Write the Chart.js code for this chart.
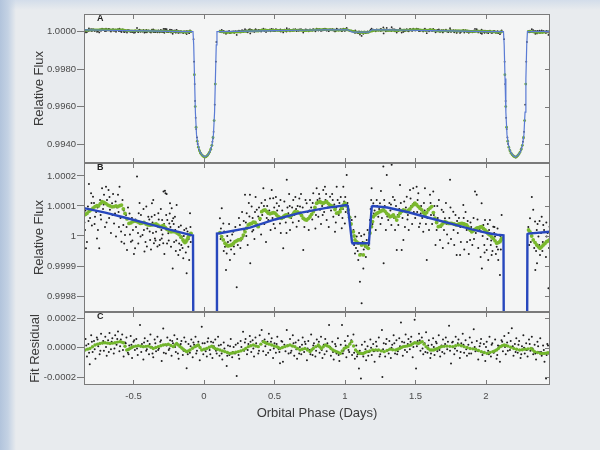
<!DOCTYPE html>
<html><head><meta charset="utf-8">
<script src="https://cdn.jsdelivr.net/npm/chart.js@4.4.1/dist/chart.umd.min.js"></script>
<style>
html,body{margin:0;padding:0;width:600px;height:450px;overflow:hidden;}
body{position:relative;background:
 linear-gradient(to right,#b2c4dc 0px,#c4d2e4 8px,rgba(232,235,238,0) 16px),
 linear-gradient(to bottom,#d3ddea 0px,rgba(232,235,238,0) 10px),
 #e8ebee;}
canvas{position:absolute;left:0;}
</style></head><body>
<canvas id="cA" width="600" height="173" style="top:0px"></canvas>
<canvas id="cB" width="600" height="169" style="top:153px"></canvas>
<canvas id="cC" width="600" height="148" style="top:302px"></canvas>
<script>
// ---------- axes / ticks ----------
const xTickValues = [-0.5, 0, 0.5, 1, 1.5, 2];
const xTickLabels = ["-0.5", "0", "0.5", "1", "1.5", "2"];
const aTickValues = [0, -2000, -4000, -6000];            // ppm from 1
const aTickLabels = ["1.0000", "0.9980", "0.9960", "0.9940"];
const bTickValues = [200, 100, 0, -100, -200];
const bTickLabels = ["1.0002", "1.0001", "1", "0.9999", "0.9998"];
const cTickValues = [200, 0, -200];
const cTickLabels = ["0.0002", "0.0000", "-0.0002"];

// ---------- model light curve [phase (days), flux - 1 (ppm)] ----------
const modelFlux = [
[-0.851,93],[-0.70,78],[-0.55,60],[-0.40,41],[-0.25,22],[-0.14,9],[-0.09,3],
[-0.078,2],[-0.073,-700],[-0.067,-2500],[-0.061,-4300],[-0.053,-5500],[-0.043,-6050],[-0.028,-6420],[-0.011,-6600],[0.007,-6680],[0.025,-6600],[0.042,-6420],[0.057,-6050],[0.067,-5500],[0.075,-4300],[0.081,-2500],[0.087,-700],[0.092,8],
[0.113,9],[0.326,28],[0.504,55],[0.681,77],[0.858,93],[1.012,103],[1.02,100],[1.05,-22],[1.055,-24],[1.165,-24],[1.17,-20],[1.19,98],[1.196,100],
[1.30,95],[1.45,79],[1.60,60],[1.75,41],[1.90,22],[2.02,9],[2.08,4],[2.124,2],[2.129,-700],[2.135,-2500],[2.141,-4300],[2.149,-5500],[2.159,-6050],[2.174,-6420],[2.191,-6600],[2.209,-6700],[2.227,-6600],[2.244,-6420],[2.259,-6050],[2.269,-5500],[2.277,-4300],[2.283,-2500],[2.289,-700],[2.294,6],[2.30,8],[2.454,14]
];

// ---------- binned flux (green) ----------
const binsOut = [
[-0.851,70],[-0.840,72],[-0.830,75],[-0.815,82],[-0.801,87],[-0.787,93],[-0.773,98],[-0.760,101],[-0.748,100],[-0.735,108],[-0.723,114],[-0.709,112],[-0.695,108],[-0.681,103],[-0.667,100],[-0.652,97],[-0.638,98],[-0.624,100],[-0.610,98],[-0.597,101],[-0.585,103],[-0.572,90],[-0.560,75],[-0.546,57],[-0.532,42],[-0.518,44],[-0.504,48],[-0.489,50],[-0.475,48],[-0.462,45],[-0.450,42],[-0.438,44],[-0.426,45],[-0.411,40],[-0.397,37],[-0.383,36],[-0.369,37],[-0.354,39],[-0.340,40],[-0.326,36],[-0.312,31],[-0.299,33],[-0.287,35],[-0.274,28],[-0.262,22],[-0.248,18],[-0.234,14],[-0.220,15],[-0.206,14],[-0.191,10],[-0.177,5],[-0.163,-4],[-0.149,-13],[-0.142,-18],[-0.135,-22],[-0.128,-19],[-0.121,-13],[-0.113,-5],[-0.106,2],[-0.099,6],[-0.092,9],
[0.113,11],[0.125,-2],[0.137,-13],[0.149,-24],[0.161,-30],[0.169,-33],[0.177,-32],[0.186,-31],[0.196,-30],[0.208,-25],[0.220,-19],[0.232,-16],[0.243,-13],[0.255,-12],[0.267,-8],[0.279,3],[0.291,14],[0.302,26],[0.314,37],[0.326,40],[0.338,42],[0.350,46],[0.362,45],[0.374,38],[0.385,31],[0.397,58],[0.409,81],[0.421,85],[0.433,87],[0.444,82],[0.456,76],[0.468,74],[0.480,76],[0.492,78],[0.504,76],[0.515,70],[0.527,64],[0.539,61],[0.551,59],[0.559,62],[0.567,66],[0.577,69],[0.587,70],[0.598,67],[0.610,64],[0.620,68],[0.631,72],[0.638,77],[0.645,81],[0.663,80],[0.681,76],[0.692,68],[0.704,59],[0.716,55],[0.728,53],[0.740,58],[0.752,64],[0.763,72],[0.775,81],[0.787,95],[0.799,109],[0.811,112],[0.823,114],[0.834,111],[0.846,109],[0.858,112],[0.870,114],[0.882,108],[0.894,103],[0.905,100],[0.917,98],[0.929,88],[0.941,76],[0.953,78],[0.965,81],[0.975,92],[0.986,100],[0.993,105],[1.000,109],[1.011,100],[1.023,87],[1.033,62],[1.043,40],
[1.059,14],[1.065,0],[1.071,-13],[1.083,-20],[1.094,-24],[1.106,-63],[1.118,-30],[1.130,-63],[1.135,-24],[1.142,-30],[1.154,-36],[1.165,-41],[1.177,10],[1.188,31],[1.195,48],
[1.201,64],[1.213,70],[1.225,75],[1.236,78],[1.248,81],[1.260,84],[1.272,87],[1.284,82],[1.296,75],[1.308,70],[1.319,64],[1.331,66],[1.343,70],[1.355,62],[1.367,53],[1.379,66],[1.390,76],[1.402,82],[1.414,87],[1.426,84],[1.438,81],[1.450,86],[1.461,90],[1.473,98],[1.485,104],[1.496,109],[1.508,104],[1.520,98],[1.532,92],[1.544,87],[1.556,78],[1.567,70],[1.579,78],[1.591,87],[1.603,93],[1.615,98],[1.627,78],[1.638,59],[1.650,45],[1.662,31],[1.674,33],[1.686,37],[1.697,43],[1.709,48],[1.721,45],[1.733,42],[1.745,42],[1.757,42],[1.773,40],[1.783,38],[1.792,37],[1.801,38],[1.809,40],[1.818,41],[1.828,42],[1.836,41],[1.844,40],[1.853,38],[1.863,37],[1.871,31],[1.879,25],[1.889,19],[1.899,14],[1.907,17],[1.915,20],[1.925,23],[1.934,26],[1.942,27],[1.950,28],[1.960,30],[1.969,31],[1.981,25],[1.993,20],[2.002,15],[2.011,10],[2.020,6],[2.028,3],[2.040,-3],[2.052,-8],[2.064,-16],[2.076,-24],[2.088,-22],[2.099,-19],[2.105,-14],[2.111,-8],
[2.302,20],[2.312,14],[2.324,0],[2.335,-13],[2.348,-22],[2.360,-30],[2.372,-36],[2.383,-41],[2.395,-36],[2.406,-30],[2.418,-25],[2.430,-19],[2.441,-16],[2.450,-13]
];
const binsIn = [
[-0.068,-2300],[-0.062,-4000],[-0.056,-5100],[-0.048,-5850],[-0.040,-6170],[-0.032,-6360],[-0.024,-6490],[-0.016,-6580],[-0.008,-6640],[0.000,-6680],[0.008,-6700],[0.016,-6670],[0.024,-6610],[0.032,-6530],[0.040,-6430],[0.048,-6280],[0.056,-6070],[0.064,-5650],[0.072,-4750],[0.080,-2800],
[2.134,-2300],[2.140,-4000],[2.146,-5100],[2.154,-5850],[2.162,-6170],[2.170,-6360],[2.178,-6490],[2.186,-6580],[2.194,-6640],[2.202,-6680],[2.210,-6700],[2.218,-6670],[2.226,-6610],[2.234,-6530],[2.242,-6430],[2.250,-6280],[2.258,-6070],[2.266,-5650],[2.274,-4750],[2.282,-2800]
];

// ---------- unbinned flux (black) ----------
const dotsOut = [
[-0.848,45],[-0.844,20],[-0.837,-41],[-0.830,-20],[-0.823,98],[-0.816,173],[-0.808,60],[-0.801,142],[-0.795,35],[-0.787,131],[-0.780,110],[-0.773,64],[-0.765,80],[-0.759,-8],[-0.752,20],[-0.743,-41],[-0.737,120],[-0.730,55],[-0.723,159],[-0.716,90],[-0.709,137],[-0.702,30],[-0.695,164],[-0.688,120],[-0.677,153],[-0.673,60],[-0.667,87],[-0.660,10],[-0.652,109],[-0.645,140],[-0.638,42],[-0.631,75],[-0.624,-2],[-0.617,95],[-0.610,137],[-0.603,30],[-0.599,164],[-0.592,60],[-0.585,-19],[-0.578,120],[-0.572,37],[-0.566,-25],[-0.560,3],[-0.553,70],[-0.546,-47],[-0.539,95],[-0.532,42],[-0.525,5],[-0.518,-19],[-0.511,60],[-0.504,20],[-0.497,-60],[-0.489,-41],[-0.482,30],[-0.475,198],[-0.468,10],[-0.463,76],[-0.457,110],[-0.450,-2],[-0.443,40],[-0.436,3],[-0.429,90],[-0.422,-52],[-0.415,-20],[-0.409,98],[-0.402,25],[-0.395,64],[-0.388,55],[-0.382,-13],[-0.376,-45],[-0.371,64],[-0.369,109],[-0.362,10],[-0.360,120],[-0.355,-24],[-0.350,70],[-0.348,-8],[-0.340,14],[-0.335,37],[-0.330,-35],[-0.326,31],[-0.324,76],[-0.316,-30],[-0.312,-13],[-0.306,90],[-0.300,-8],[-0.297,53],[-0.294,5],[-0.289,-24],[-0.287,148],[-0.281,-60],[-0.277,151],[-0.273,142],[-0.268,70],[-0.265,140],[-0.260,53],[-0.253,9],[-0.250,-15],[-0.246,42],[-0.241,109],[-0.238,30],[-0.234,-36],[-0.229,92],[-0.226,50],[-0.222,-108],[-0.218,59],[-0.212,-20],[-0.206,64],[-0.204,20],[-0.200,-50],[-0.194,103],[-0.188,10],[-0.182,-63],[-0.176,-25],[-0.170,-47],[-0.164,35],[-0.158,-2],[-0.152,-40],[-0.147,-74],[-0.140,20],[-0.129,-55],[-0.123,-124],[-0.117,15],[-0.111,-36],[-0.105,-80],[-0.099,76],[-0.094,-20],
[0.113,59],[0.118,-10],[0.126,92],[0.137,42],[0.143,15],[0.149,-36],[0.156,-113],[0.161,-58],[0.170,-20],[0.178,40],[0.184,-80],[0.192,-45],[0.200,5],[0.208,14],[0.215,-60],[0.222,30],[0.232,-171],[0.240,-30],[0.248,60],[0.255,37],[0.262,-15],[0.270,80],[0.279,-2],[0.285,20],[0.291,137],[0.297,45],[0.303,76],[0.310,-30],[0.318,110],[0.326,137],[0.328,-91],[0.338,98],[0.345,60],[0.350,20],[0.358,-10],[0.366,130],[0.374,87],[0.380,30],[0.390,95],[0.397,53],[0.405,5],[0.413,70],[0.421,159],[0.428,40],[0.433,120],[0.440,-20],[0.448,100],[0.456,53],[0.463,85],[0.472,20],[0.480,153],[0.486,60],[0.491,126],[0.498,95],[0.504,26],[0.510,130],[0.516,109],[0.522,65],[0.532,100],[0.539,42],[0.545,10],[0.555,85],[0.562,-41],[0.570,115],[0.580,45],[0.587,187],[0.592,95],[0.598,76],[0.604,140],[0.610,20],[0.618,60],[0.625,95],[0.633,120],[0.640,70],[0.648,130],[0.657,31],[0.664,100],[0.672,50],[0.681,98],[0.688,140],[0.696,70],[0.704,-47],[0.712,30],[0.720,120],[0.728,109],[0.735,80],[0.743,20],[0.752,120],[0.760,95],[0.768,55],[0.775,142],[0.782,85],[0.790,25],[0.799,159],[0.805,120],[0.811,64],[0.816,140],[0.823,87],[0.830,40],[0.838,100],[0.846,153],[0.852,80],[0.858,164],[0.862,120],[0.870,53],[0.877,95],[0.885,30],[0.894,131],[0.901,85],[0.909,140],[0.917,64],[0.924,105],[0.929,14],[0.935,45],[0.941,164],[0.948,120],[0.956,70],[0.965,87],[0.970,130],[0.977,26],[0.982,60],[0.988,164],[0.994,115],[0.999,42],[1.005,80],[1.012,203],[1.023,76],[1.035,42],[1.048,53],
[1.060,20],[1.071,-58],[1.073,64],[1.078,-40],[1.083,-2],[1.085,-19],[1.094,-80],[1.100,10],[1.106,-152],[1.112,-60],[1.118,-224],[1.125,-20],[1.130,-108],[1.136,5],[1.142,-36],[1.148,-70],[1.154,-13],[1.160,20],[1.168,-30],
[1.177,53],[1.182,90],[1.189,159],[1.195,40],[1.201,109],[1.210,85],[1.218,20],[1.225,120],[1.236,64],[1.242,90],[1.248,109],[1.255,150],[1.262,60],[1.272,231],[1.274,-91],[1.282,100],[1.290,20],[1.296,203],[1.307,53],[1.315,110],[1.322,85],[1.329,37],[1.331,237],[1.340,130],[1.348,60],[1.355,20],[1.362,100],[1.367,-47],[1.378,37],[1.385,90],[1.390,170],[1.396,110],[1.402,-47],[1.408,60],[1.414,-13],[1.425,30],[1.432,95],[1.438,131],[1.446,70],[1.452,20],[1.461,153],[1.468,100],[1.476,40],[1.484,159],[1.490,110],[1.498,60],[1.508,164],[1.512,80],[1.520,142],[1.525,30],[1.532,42],[1.540,100],[1.548,60],[1.555,14],[1.560,110],[1.567,159],[1.574,40],[1.580,-80],[1.588,90],[1.596,20],[1.603,137],[1.610,70],[1.618,40],[1.626,148],[1.634,100],[1.642,-30],[1.650,20],[1.658,60],[1.666,120],[1.674,-13],[1.680,30],[1.686,87],[1.694,-40],[1.702,20],[1.709,59],[1.716,110],[1.724,5],[1.733,-24],[1.740,60],[1.745,187],[1.752,-10],[1.760,40],[1.768,81],[1.775,-30],[1.784,70],[1.792,-63],[1.800,10],[1.808,60],[1.816,-63],[1.822,-20],[1.830,40],[1.839,103],[1.846,-45],[1.855,80],[1.863,20],[1.870,50],[1.878,-60],[1.887,-13],[1.895,30],[1.903,-30],[1.912,60],[1.922,148],[1.928,10],[1.934,137],[1.945,-40],[1.955,20],[1.962,-70],[1.969,109],[1.971,-108],[1.976,0],[1.981,37],[1.988,-30],[1.993,53],[1.998,15],[2.005,-47],[2.010,-10],[2.016,-80],[2.022,20],[2.028,53],[2.034,-30],[2.040,-63],[2.046,-50],[2.052,31],[2.058,10],[2.064,-2],[2.070,-60],[2.076,-36],[2.082,25],[2.087,-80],[2.093,-20],[2.099,-130],[2.105,-45],[2.111,70],
[2.300,30],[2.312,59],[2.318,-20],[2.325,130],[2.335,87],[2.342,-40],[2.348,48],[2.350,-113],[2.360,20],[2.362,-91],[2.366,40],[2.372,-2],[2.378,-30],[2.383,-63],[2.390,10],[2.395,64],[2.400,-50],[2.406,37],[2.412,20],[2.418,-24],[2.425,-70],[2.430,-2],[2.437,10],[2.443,-174],[2.447,-40],[2.451,31]
];
const dotsOut2 = [
[-0.841,85],[-0.819,50],[-0.798,110],[-0.776,40],[-0.755,95],[-0.733,70],[-0.712,105],[-0.691,45],[-0.670,130],[-0.649,70],[-0.627,115],[-0.606,80],[-0.588,15],[-0.569,85],[-0.549,30],[-0.528,75],[-0.508,-15],[-0.486,55],[-0.466,-25],[-0.447,70],[-0.426,20],[-0.405,-35],[-0.385,15],[-0.365,45],[-0.344,-15],[-0.321,55],[-0.302,20],[-0.283,40],[-0.262,-25],[-0.243,75],[-0.215,40],[-0.197,-15],[-0.179,30],[-0.161,-30],[-0.143,0],[-0.126,25],[-0.108,-10],[-0.096,30],
[0.120,25],[0.140,-50],[0.165,0],[0.188,-15],[0.212,-35],[0.236,20],[0.258,-40],[0.282,50],[0.300,0],[0.322,65],[0.342,15],[0.362,80],[0.385,65],[0.408,110],[0.425,100],[0.445,60],[0.468,125],[0.494,40],[0.519,85],[0.542,120],[0.565,60],[0.585,10],[0.608,100],[0.630,45],[0.653,90],[0.676,125],[0.700,95],[0.724,55],[0.748,85],[0.771,110],[0.794,70],[0.820,125],[0.842,70],[0.866,140],[0.890,100],[0.913,120],[0.938,95],[0.960,110],[0.985,90],[1.002,130],[1.018,110],
[1.065,-30],[1.090,-50],[1.115,0],[1.133,-45],[1.157,-40],
[1.186,120],[1.205,75],[1.228,100],[1.252,40],[1.278,120],[1.300,65],[1.326,105],[1.352,120],[1.374,70],[1.398,80],[1.420,115],[1.443,55],[1.465,125],[1.488,80],[1.515,120],[1.537,75],[1.565,85],[1.585,60],[1.607,110],[1.630,70],[1.655,100],[1.677,50],[1.698,80],[1.720,40],[1.748,95],[1.770,20],[1.795,50],[1.818,30],[1.842,60],[1.866,-20],[1.890,45],[1.915,-10],[1.940,55],[1.965,15],[1.990,-55],[2.013,40],[2.037,-15],[2.060,30],[2.085,-45],[2.102,0],
[2.306,-30],[2.330,10],[2.355,-50],[2.380,50],[2.403,-20],[2.428,45],[2.445,-15]
];
const dotsIn = [
[-0.074,-400],[-0.070,-1600],[-0.066,-2800],[-0.063,-3700],[-0.059,-4600],[-0.055,-5200],[-0.050,-5650],[-0.045,-6000],[-0.040,-6150],[-0.035,-6300],[-0.030,-6400],[-0.025,-6470],[-0.020,-6530],[-0.015,-6580],[-0.010,-6620],[-0.005,-6650],[0.000,-6680],[0.005,-6700],[0.010,-6690],[0.015,-6670],[0.020,-6640],[0.025,-6600],[0.030,-6560],[0.035,-6490],[0.040,-6430],[0.045,-6340],[0.050,-6220],[0.055,-6090],[0.060,-5880],[0.064,-5700],[0.068,-5350],[0.072,-4750],[0.076,-3900],[0.080,-2800],[0.084,-1600],[0.088,-550],
[2.128,-400],[2.132,-1600],[2.136,-2800],[2.139,-3700],[2.143,-4600],[2.147,-5200],[2.152,-5650],[2.157,-6000],[2.162,-6150],[2.167,-6300],[2.172,-6400],[2.177,-6470],[2.182,-6530],[2.187,-6580],[2.192,-6620],[2.197,-6650],[2.202,-6680],[2.207,-6700],[2.212,-6720],[2.217,-6690],[2.222,-6650],[2.227,-6600],[2.232,-6560],[2.237,-6490],[2.242,-6430],[2.247,-6340],[2.252,-6220],[2.257,-6090],[2.262,-5880],[2.266,-5700],[2.270,-5350],[2.274,-4750],[2.278,-3900],[2.282,-2800],[2.286,-1600],[2.290,-550]
];

// ---------- residuals (ppm) ----------
const resBins = [
[-0.844,-16],[-0.826,-10],[-0.809,-5],[-0.791,6],[-0.773,18],[-0.755,24],[-0.738,29],[-0.720,32],[-0.702,34],[-0.684,31],[-0.667,29],[-0.649,31],[-0.631,34],[-0.613,38],[-0.596,41],[-0.584,38],[-0.572,34],[-0.560,10],[-0.548,-16],[-0.536,-12],[-0.525,-5],[-0.513,1],[-0.501,7],[-0.484,11],[-0.466,14],[-0.448,10],[-0.430,7],[-0.412,9],[-0.395,11],[-0.377,3],[-0.360,-5],[-0.342,1],[-0.324,7],[-0.306,13],[-0.289,18],[-0.271,21],[-0.253,23],[-0.235,15],[-0.218,7],[-0.206,18],[-0.194,29],[-0.182,18],[-0.170,7],[-0.158,-2],[-0.147,-11],[-0.135,-19],[-0.123,-27],[-0.111,-22],[-0.099,-16],[-0.081,-4],[-0.064,7],[-0.052,13],[-0.040,18],[-0.028,1],[-0.016,-16],[0.001,-11],[0.019,-5],[0.037,3],[0.055,11],[0.066,3],[0.078,-5],[0.095,-11],[0.113,-16],[0.131,-22],[0.149,-27],[0.166,-33],[0.184,-39],[0.196,-37],[0.208,-34],[0.226,-31],[0.243,-27],[0.261,-22],[0.279,-16],[0.296,-5],[0.314,7],[0.332,13],[0.350,18],[0.367,12],[0.385,7],[0.403,24],[0.421,41],[0.433,35],[0.445,29],[0.462,24],[0.480,18],[0.498,12],[0.516,7],[0.527,1],[0.539,-5],[0.556,1],[0.574,7],[0.592,13],[0.610,18],[0.627,12],[0.645,7],[0.663,-5],[0.681,-16],[0.698,-11],[0.716,-5],[0.734,-16],[0.752,-27],[0.763,-16],[0.775,-5],[0.793,7],[0.811,18],[0.821,6],[0.832,-5],[0.846,6],[0.860,18],[0.873,13],[0.887,7],[0.900,-5],[0.914,-16],[0.927,-22],[0.940,-27],[0.953,-33],[0.967,-39],[0.980,-22],[0.994,-5],[1.007,1],[1.021,7],[1.034,24],[1.048,41],[1.061,12],[1.075,-16],[1.088,-28],[1.102,-39],[1.116,-39],[1.130,-39],[1.143,-33],[1.156,-27],[1.176,-22],[1.197,-16],[1.217,-16],[1.238,-16],[1.258,-22],[1.278,-27],[1.298,-19],[1.318,-11],[1.338,-14],[1.359,-16],[1.373,-11],[1.387,-5],[1.400,1],[1.413,7],[1.426,9],[1.440,11],[1.453,15],[1.467,18],[1.480,26],[1.494,34],[1.507,32],[1.521,29],[1.534,35],[1.548,41],[1.561,24],[1.575,7],[1.589,-5],[1.603,-16],[1.616,-16],[1.629,-16],[1.642,-11],[1.656,-5],[1.670,1],[1.684,7],[1.703,9],[1.723,11],[1.744,9],[1.765,7],[1.785,13],[1.805,18],[1.825,13],[1.845,7],[1.866,1],[1.887,-5],[1.907,-8],[1.927,-11],[1.947,-19],[1.967,-27],[1.988,-33],[2.008,-39],[2.028,-33],[2.048,-27],[2.061,-22],[2.075,-16],[2.088,-5],[2.102,7],[2.115,13],[2.129,18],[2.142,15],[2.156,11],[2.176,3],[2.197,-5],[2.217,-11],[2.238,-16],[2.258,-14],[2.278,-11],[2.298,-8],[2.319,-5],[2.332,-16],[2.345,-27],[2.365,-33],[2.386,-39],[2.399,-39],[2.413,-39],[2.427,-37],[2.440,-34]
];
const resDots = [
[-0.84,60],[-0.83,-60],[-0.82,25],[-0.81,-113],[-0.80,85],[-0.79,-30],[-0.78,45],[-0.77,-75],[-0.76,70],[-0.75,10],[-0.74,-45],[-0.73,95],[-0.72,30],[-0.71,-20],[-0.70,75],[-0.69,-55],[-0.68,50],[-0.67,100],[-0.66,-10],[-0.65,65],[-0.64,-40],[-0.63,85],[-0.62,20],[-0.61,110],[-0.60,-25],[-0.59,55],[-0.58,90],[-0.57,-60],[-0.56,35],[-0.55,70],[-0.54,-35],[-0.53,15],[-0.52,80],[-0.51,-70],[-0.50,40],[-0.49,-15],[-0.48,60],[-0.47,-50],[-0.454,154],[-0.44,25],[-0.43,-80],[-0.42,65],[-0.41,-20],[-0.40,45],[-0.39,-45],[-0.38,90],[-0.37,5],[-0.36,-65],[-0.35,55],[-0.34,-25],[-0.33,75],[-0.32,-5],[-0.31,40],[-0.30,-90],[-0.289,131],[-0.28,20],[-0.27,-40],[-0.26,70],[-0.25,-15],[-0.24,50],[-0.23,-55],[-0.22,30],[-0.21,85],[-0.20,-30],[-0.19,60],[-0.18,-75],[-0.17,15],[-0.16,45],[-0.15,-50],[-0.14,70],[-0.123,-140],[-0.11,25],[-0.10,-35],[-0.09,55],[-0.08,-65],[-0.07,20],[-0.06,75],[-0.05,-20],[-0.04,40],[-0.03,-85],[-0.016,143],[-0.005,-45],[0.005,30],[0.02,-60],[0.03,65],[0.04,-15],[0.05,40],[0.06,-70],[0.07,10],[0.08,55],[0.09,-40],[0.10,75],[0.11,-55],[0.12,20],[0.13,-80],[0.14,35],[0.15,-30],[0.161,-125],[0.17,15],[0.18,-50],[0.19,60],[0.20,-65],[0.21,5],[0.22,-40],[0.232,-192],[0.24,30],[0.25,-75],[0.26,45],[0.277,109],[0.285,-20],[0.295,60],[0.305,-45],[0.315,25],[0.325,80],[0.335,-30],[0.345,50],[0.355,-60],[0.365,70],[0.375,10],[0.385,-40],[0.395,85],[0.409,120],[0.42,-25],[0.43,55],[0.44,-50],[0.45,40],[0.46,95],[0.47,-15],[0.48,65],[0.49,-70],[0.50,30],[0.51,-35],[0.52,75],[0.53,-10],[0.539,-106],[0.549,45],[0.560,-95],[0.570,20],[0.587,120],[0.60,-40],[0.61,60],[0.62,-20],[0.63,85],[0.64,-55],[0.65,35],[0.66,-75],[0.67,50],[0.68,5],[0.69,-45],[0.70,70],[0.71,-30],[0.72,25],[0.73,-85],[0.74,45],[0.75,-15],[0.76,90],[0.77,-50],[0.78,30],[0.79,-60],[0.80,55],[0.81,10],[0.82,-35],[0.83,75],[0.84,-70],[0.85,20],[0.86,60],[0.87,-25],[0.887,155],[0.90,-55],[0.91,40],[0.92,-80],[0.93,25],[0.94,-40],[0.95,65],[0.96,-90],[0.979,155],[0.99,-20],[1.00,45],[1.01,-65],[1.02,80],[1.03,-30],[1.04,35],[1.05,-50],[1.06,90],[1.07,-75],[1.08,15],[1.09,-45],[1.099,-142],[1.113,-210],[1.12,20],[1.13,-60],[1.14,40],[1.15,-85],[1.16,10],[1.17,-30],[1.18,55],[1.19,-50],[1.20,25],[1.21,-95],[1.22,40],[1.23,-20],[1.24,70],[1.25,-45],[1.262,121],[1.265,-199],[1.275,30],[1.285,-60],[1.295,60],[1.305,-15],[1.315,45],[1.325,-70],[1.335,20],[1.345,85],[1.355,-40],[1.365,50],[1.375,-25],[1.385,65],[1.397,171],[1.41,-55],[1.42,35],[1.43,90],[1.44,-30],[1.45,60],[1.46,-10],[1.47,75],[1.48,-65],[1.494,190],[1.504,-142],[1.515,45],[1.525,95],[1.535,-20],[1.545,70],[1.555,-45],[1.565,30],[1.575,105],[1.585,-35],[1.595,50],[1.605,-70],[1.615,20],[1.625,65],[1.635,-50],[1.645,40],[1.655,-25],[1.665,85],[1.675,-60],[1.685,15],[1.695,55],[1.705,-40],[1.715,70],[1.725,-10],[1.738,149],[1.752,-107],[1.765,40],[1.775,-45],[1.785,75],[1.795,-20],[1.805,55],[1.815,-70],[1.825,30],[1.835,95],[1.845,-35],[1.855,50],[1.865,-55],[1.875,20],[1.885,70],[1.895,-40],[1.913,126],[1.925,-25],[1.935,45],[1.945,-80],[1.955,10],[1.965,60],[1.975,-50],[1.985,25],[1.995,-90],[2.005,40],[2.015,-20],[2.025,75],[2.035,-60],[2.045,30],[2.055,-35],[2.065,55],[2.075,-75],[2.085,15],[2.099,-96],[2.11,50],[2.12,-25],[2.13,80],[2.14,-45],[2.15,35],[2.16,100],[2.17,-15],[2.183,133],[2.195,-55],[2.205,25],[2.215,65],[2.225,-35],[2.235,45],[2.245,-70],[2.255,10],[2.265,85],[2.275,-40],[2.285,30],[2.295,-60],[2.305,55],[2.315,-20],[2.325,75],[2.335,-45],[2.345,20],[2.355,-80],[2.365,40],[2.375,-30],[2.385,65],[2.395,-55],[2.405,15],[2.415,-95],[2.426,-210],[2.435,25],[2.445,-40]
];
const resDots2 = [
[-0.835,15],[-0.815,-35],[-0.795,40],[-0.775,-10],[-0.755,55],[-0.735,-20],[-0.715,45],[-0.695,5],[-0.675,-30],[-0.655,40],[-0.635,-5],[-0.615,60],[-0.595,10],[-0.575,-15],[-0.555,30],[-0.535,-45],[-0.515,20],[-0.495,50],[-0.475,-5],[-0.445,-30],[-0.425,35],[-0.405,-10],[-0.385,25],[-0.365,-40],[-0.345,30],[-0.325,-15],[-0.305,50],[-0.285,-35],[-0.265,15],[-0.245,-5],[-0.225,45],[-0.205,5],[-0.185,-40],[-0.165,25],[-0.145,-20],[-0.13,40],[-0.115,-45],[-0.095,10],[-0.075,35],[-0.055,-40],[-0.035,15],[-0.01,30],[0.012,-25],[0.025,40],[0.045,-45],[0.065,35],[0.085,-20],[0.105,15],[0.125,-40],[0.145,-5],[0.165,-55],[0.185,10],[0.205,-30],[0.225,20],[0.245,-50],[0.265,5],[0.29,35],[0.31,-15],[0.33,40],[0.35,-5],[0.37,30],[0.39,-20],[0.415,45],[0.435,10],[0.455,-35],[0.475,40],[0.495,-5],[0.515,25],[0.535,-30],[0.555,40],[0.578,-25],[0.595,15],[0.615,-35],[0.635,30],[0.655,-10],[0.675,-40],[0.695,20],[0.715,40],[0.735,-5],[0.755,-45],[0.775,15],[0.795,-20],[0.815,40],[0.835,-15],[0.855,-45],[0.875,30],[0.895,5],[0.915,-30],[0.935,10],[0.955,-50],[0.97,20],[0.985,-40],[1.005,15],[1.025,-15],[1.045,50],[1.065,-35],[1.085,-60],[1.105,-20],[1.125,-45],[1.145,-10],[1.165,-55],[1.185,0],[1.205,-25],[1.225,10],[1.245,-60],[1.27,-10],[1.29,25],[1.31,-40],[1.33,0],[1.35,30],[1.37,-45],[1.39,10],[1.405,40],[1.425,-15],[1.445,25],[1.465,40],[1.485,5],[1.51,10],[1.53,50],[1.55,-5],[1.57,-30],[1.59,15],[1.61,-40],[1.63,5],[1.65,30],[1.67,-15],[1.69,-30],[1.71,25],[1.73,40],[1.745,-20],[1.76,35],[1.78,-5],[1.8,30],[1.82,-30],[1.84,20],[1.86,-10],[1.88,-40],[1.9,35],[1.92,5],[1.94,-20],[1.96,30],[1.98,-35],[2.0,5],[2.02,-45],[2.04,20],[2.06,-25],[2.08,-50],[2.095,10],[2.115,40],[2.135,5],[2.155,-20],[2.175,45],[2.19,10],[2.21,-30],[2.23,20],[2.25,-45],[2.27,0],[2.29,-15],[2.31,25],[2.33,-5],[2.35,-40],[2.37,10],[2.39,-30],[2.41,-15],[2.43,-50],[2.44,15]
];

// ---------- rendering ----------
const X_MIN = -0.851, X_MAX = 2.454;
const FONT = "'Liberation Sans', Arial, Helvetica, sans-serif";
const toXY = a => a.map(p => ({x: p[0], y: p[1]}));

const panelPlugin = {
  id: 'panel',
  beforeDraw(chart, args, o) {
    const {ctx, chartArea: a} = chart;
    ctx.save(); ctx.fillStyle = '#f4f5f5';
    ctx.fillRect(a.left, a.top, a.right - a.left, a.bottom - a.top); ctx.restore();
  },
  afterDraw(chart, args, o) {
    const {ctx, chartArea: a, scales} = chart;
    ctx.save();
    ctx.strokeStyle = '#7a7a7a'; ctx.lineWidth = 1;
    ctx.strokeRect(a.left + 0.5, a.top + 0.5, a.right - a.left - 1, a.bottom - a.top - 1);
    ctx.beginPath();
    xTickValues.forEach(v => {
      const px = Math.round(scales.x.getPixelForValue(v)) + 0.5;
      ctx.moveTo(px, a.top); ctx.lineTo(px, a.top + 5);
      ctx.moveTo(px, a.bottom); ctx.lineTo(px, a.bottom - 5);
    });
    o.yTicks.forEach(v => {
      const py = Math.round(scales.y.getPixelForValue(v)) + 0.5;
      ctx.moveTo(a.right, py); ctx.lineTo(a.right - 5, py);
    });
    ctx.stroke();
    ctx.fillStyle = '#222'; ctx.font = 'bold 9px ' + FONT;
    ctx.textBaseline = 'middle'; ctx.textAlign = 'left';
    ctx.fillText(o.label, a.left + 13, a.top + 5);
    ctx.restore();
  }
};

function yAxis(min, max, vals, labels, title, titlePad) {
  return {
    type: 'linear', position: 'left', min, max,
    afterBuildTicks: s => { s.ticks = vals.map(v => ({value: v})); },
    afterFit: s => { s.width = 84; },
    ticks: {callback: v => labels[vals.indexOf(v)], font: {family: FONT, size: 9.5}, color: '#4a4a4a', padding: 1, autoSkip: false},
    grid: {display: true, drawOnChartArea: false, drawTicks: true, tickLength: 7, color: '#7a7a7a', lineWidth: 1},
    border: {display: false},
    title: {display: true, text: title, font: {family: FONT, size: 13}, color: '#3a3a3a', padding: {top: titlePad, bottom: 0}}
  };
}
function xAxis(show) {
  return {
    type: 'linear', position: 'bottom', min: X_MIN, max: X_MAX, display: show,
    afterBuildTicks: s => { s.ticks = xTickValues.map(v => ({value: v})); },
    afterFit: s => { if (show) s.height = 36; },
    ticks: {callback: v => xTickLabels[xTickValues.indexOf(v)], font: {family: FONT, size: 9.5}, color: '#4a4a4a', padding: 6, maxRotation: 0, autoSkip: false},
    grid: {display: false, drawTicks: false}, border: {display: false},
    title: {display: show, text: 'Orbital Phase (Days)', font: {family: FONT, size: 13}, color: '#3a3a3a', padding: {top: 0, bottom: 0}}
  };
}
function makeChart(id, datasets, yOpts, showX, pad, label, yTicks) {
  return new Chart(document.getElementById(id), {
    type: 'scatter',
    data: {datasets},
    options: {
      responsive: false, maintainAspectRatio: false, animation: false, events: [],
      layout: {padding: pad},
      scales: {x: xAxis(showX), y: yOpts},
      plugins: {legend: {display: false}, tooltip: {enabled: false}, panel: {label, yTicks}}
    },
    plugins: [panelPlugin]
  });
}
const lineDS = (w, c) => ({data: toXY(modelFlux), showLine: true, borderColor: c, borderWidth: w, pointRadius: 0, tension: 0, order: 0});
const ptsDS = (data, r, c, ord) => ({data: toXY(data), pointRadius: r, pointBackgroundColor: c, pointBorderWidth: 0, showLine: false, order: ord});

const allDots = dotsOut.concat(dotsOut2, dotsIn);
const allBins = binsOut.concat(binsIn);

makeChart('cA', [
  lineDS(1.2, '#5a7bd4'),
  ptsDS(allBins, 1.4, '#6fae2c', 1),
  ptsDS(allDots, 0.9, '#2a2a2a', 2)
], yAxis(-7015, 946, aTickValues, aTickLabels, 'Relative Flux', 31.5), false,
 {left: 0, right: 50, top: 14, bottom: 10}, 'A', aTickValues);

makeChart('cB', [
  lineDS(2.4, '#2747bd'),
  ptsDS(allBins, 1.9, '#7ab82e', 1),
  ptsDS(allDots, 1.0, '#1e1e1e', 2)
], yAxis(-253, 243, bTickValues, bTickLabels, 'Relative Flux', 31.5), false,
 {left: 0, right: 50, top: 10, bottom: 10}, 'B', bTickValues);

makeChart('cC', [
  ptsDS(resBins, 1.7, '#72b52c', 0),
  ptsDS(resDots.concat(resDots2), 1.0, '#1e1e1e', 1)
], yAxis(-254, 243, cTickValues, cTickLabels, 'Fit Residual', 28), true,
 {left: 0, right: 50, top: 10, bottom: 29}, 'C', cTickValues);
</script>
</body></html>
